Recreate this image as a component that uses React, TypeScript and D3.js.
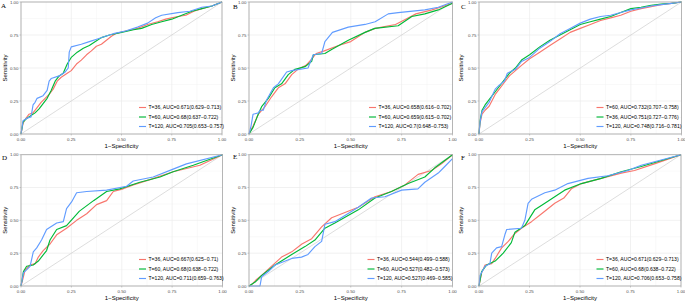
import React from 'react';
import * as d3 from 'd3';

type Pt = [number, number];

const majorTicks = [0, 0.25, 0.5, 0.75, 1];
const minorTicks = [0.125, 0.375, 0.625, 0.875];
const panelLetters = ['A', 'B', 'C', 'D', 'E', 'F'];
const seriesColors = ['#F8766D', '#00BA38', '#619CFF'];
const xTitle = '1−Specificity';
const yTitle = 'Sensitivity';

const legendA = ['T=36, AUC=0.671(0.629−0.713)', 'T=60, AUC=0.68(0.637−0.722)', 'T=120, AUC=0.705(0.653−0.757)'];
const legendB = ['T=36, AUC=0.658(0.616−0.702)', 'T=60, AUC=0.659(0.615−0.702)', 'T=120, AUC=0.7(0.648−0.753)'];
const legendC = ['T=60, AUC=0.732(0.707−0.758)', 'T=36, AUC=0.751(0.727−0.776)', 'T=120, AUC=0.748(0.716−0.781)'];
const legendD = ['T=36, AUC=0.667(0.625−0.71)', 'T=60, AUC=0.68(0.638−0.722)', 'T=120, AUC=0.711(0.659−0.763)'];
const legendE = ['T=36, AUC=0.544(0.499−0.588)', 'T=60, AUC=0.527(0.482−0.573)', 'T=120, AUC=0.527(0.469−0.585)'];
const legendF = ['T=36, AUC=0.671(0.629−0.713)', 'T=60, AUC=0.68(0.638−0.722)', 'T=120, AUC=0.706(0.653−0.758)'];

const redA: Pt[] = [[0,0],[0.01,0.08],[0.02,0.11],[0.04,0.15],[0.06,0.16],[0.08,0.2],[0.1,0.24],[0.12,0.27],[0.14,0.3],[0.16,0.34],[0.18,0.4],[0.2,0.43],[0.23,0.46],[0.25,0.48],[0.276,0.53],[0.3,0.56],[0.326,0.6],[0.35,0.63],[0.375,0.665],[0.4,0.68],[0.425,0.71],[0.45,0.74],[0.47,0.76],[0.52,0.78],[0.58,0.8],[0.63,0.83],[0.68,0.85],[0.72,0.87],[0.78,0.89],[0.82,0.9],[0.86,0.93],[0.9,0.95],[0.95,0.97],[1,1]];
const greenA: Pt[] = [[0,0],[0.01,0.09],[0.03,0.12],[0.05,0.14],[0.07,0.16],[0.09,0.19],[0.11,0.23],[0.13,0.27],[0.15,0.33],[0.17,0.4],[0.19,0.44],[0.21,0.46],[0.23,0.53],[0.25,0.58],[0.28,0.62],[0.31,0.65],[0.34,0.67],[0.37,0.7],[0.4,0.73],[0.44,0.75],[0.5,0.77],[0.56,0.79],[0.6,0.8],[0.65,0.83],[0.7,0.85],[0.75,0.87],[0.8,0.9],[0.85,0.93],[0.9,0.95],[0.95,0.97],[1,1]];
const blueA: Pt[] = [[0,0],[0.01,0.1],[0.03,0.12],[0.05,0.13],[0.06,0.22],[0.07,0.24],[0.08,0.27],[0.11,0.29],[0.13,0.33],[0.14,0.4],[0.15,0.42],[0.19,0.44],[0.22,0.47],[0.235,0.5],[0.24,0.62],[0.25,0.66],[0.3,0.68],[0.34,0.7],[0.38,0.72],[0.42,0.74],[0.46,0.76],[0.52,0.78],[0.58,0.81],[0.63,0.84],[0.67,0.88],[0.7,0.9],[0.78,0.92],[0.84,0.93],[0.9,0.96],[0.95,0.97],[1,1]];

const redB: Pt[] = [[0,0],[0.02,0.06],[0.046,0.15],[0.08,0.21],[0.11,0.28],[0.144,0.35],[0.177,0.38],[0.21,0.45],[0.24,0.49],[0.28,0.52],[0.31,0.57],[0.33,0.61],[0.37,0.63],[0.44,0.67],[0.5,0.7],[0.54,0.74],[0.57,0.77],[0.62,0.8],[0.72,0.83],[0.77,0.87],[0.82,0.91],[0.9,0.94],[1,0.99]];
const greenB: Pt[] = [[0,0],[0.02,0.05],[0.04,0.13],[0.063,0.21],[0.095,0.27],[0.127,0.35],[0.16,0.38],[0.193,0.45],[0.226,0.49],[0.275,0.51],[0.308,0.55],[0.316,0.6],[0.373,0.61],[0.406,0.64],[0.488,0.71],[0.57,0.77],[0.618,0.8],[0.733,0.82],[0.8,0.89],[0.864,0.91],[0.93,0.94],[1,0.99]];
const blueB: Pt[] = [[0,0],[0.01,0.06],[0.02,0.15],[0.046,0.16],[0.054,0.18],[0.07,0.18],[0.087,0.26],[0.12,0.35],[0.144,0.38],[0.185,0.47],[0.21,0.48],[0.29,0.5],[0.3,0.54],[0.316,0.6],[0.357,0.61],[0.373,0.7],[0.41,0.77],[0.488,0.81],[0.57,0.83],[0.62,0.85],[0.684,0.91],[0.733,0.92],[0.864,0.94],[0.93,0.96],[1,1]];

const redC: Pt[] = [[0,0],[0.005,0.08],[0.015,0.15],[0.03,0.18],[0.05,0.21],[0.08,0.3],[0.1,0.34],[0.125,0.39],[0.15,0.44],[0.18,0.48],[0.21,0.52],[0.25,0.57],[0.3,0.62],[0.35,0.67],[0.4,0.72],[0.45,0.77],[0.5,0.8],[0.55,0.83],[0.6,0.86],[0.65,0.88],[0.7,0.9],[0.75,0.93],[0.8,0.95],[0.85,0.965],[0.9,0.98],[0.95,0.99],[1,1]];
const greenC: Pt[] = [[0,0],[0.005,0.1],[0.015,0.18],[0.03,0.22],[0.05,0.26],[0.08,0.32],[0.1,0.36],[0.125,0.41],[0.15,0.46],[0.18,0.5],[0.21,0.56],[0.25,0.6],[0.3,0.66],[0.35,0.71],[0.4,0.75],[0.45,0.79],[0.5,0.83],[0.55,0.85],[0.6,0.87],[0.65,0.89],[0.7,0.92],[0.75,0.95],[0.8,0.96],[0.85,0.975],[0.9,0.985],[0.95,0.99],[1,1]];
const blueC: Pt[] = [[0,0],[0.005,0.09],[0.015,0.17],[0.03,0.2],[0.05,0.24],[0.08,0.34],[0.1,0.37],[0.125,0.4],[0.14,0.46],[0.18,0.49],[0.21,0.55],[0.25,0.58],[0.3,0.65],[0.35,0.7],[0.4,0.76],[0.45,0.8],[0.5,0.84],[0.55,0.87],[0.6,0.89],[0.65,0.9],[0.7,0.92],[0.75,0.94],[0.8,0.955],[0.85,0.97],[0.9,0.98],[0.95,0.99],[1,1]];

const redD: Pt[] = [[0,0],[0.012,0.07],[0.02,0.12],[0.045,0.16],[0.07,0.17],[0.086,0.22],[0.11,0.27],[0.144,0.32],[0.177,0.39],[0.226,0.44],[0.276,0.5],[0.326,0.55],[0.375,0.62],[0.425,0.65],[0.458,0.72],[0.507,0.74],[0.557,0.77],[0.64,0.81],[0.755,0.87],[0.888,0.92],[1,1]];
const greenD: Pt[] = [[0,0],[0.012,0.11],[0.028,0.15],[0.061,0.16],[0.086,0.19],[0.127,0.27],[0.144,0.35],[0.177,0.43],[0.226,0.46],[0.29,0.57],[0.36,0.65],[0.425,0.72],[0.49,0.74],[0.59,0.79],[0.69,0.83],[0.755,0.87],[0.855,0.92],[1,1]];
const blueD: Pt[] = [[0,0],[0.012,0.1],[0.045,0.15],[0.061,0.26],[0.078,0.29],[0.102,0.35],[0.127,0.43],[0.177,0.48],[0.21,0.49],[0.226,0.59],[0.251,0.64],[0.276,0.71],[0.326,0.72],[0.425,0.73],[0.524,0.76],[0.557,0.8],[0.656,0.83],[0.755,0.89],[0.821,0.93],[1,1]];

const redE: Pt[] = [[0,0],[0.013,0.01],[0.037,0.05],[0.062,0.08],[0.11,0.15],[0.16,0.22],[0.21,0.26],[0.26,0.32],[0.308,0.36],[0.357,0.45],[0.406,0.52],[0.537,0.6],[0.619,0.68],[0.7,0.72],[0.766,0.77],[0.831,0.85],[0.897,0.88],[0.946,0.93],[1,1]];
const greenE: Pt[] = [[0,0],[0.03,0.03],[0.062,0.08],[0.128,0.16],[0.21,0.24],[0.275,0.3],[0.324,0.35],[0.373,0.44],[0.422,0.48],[0.537,0.58],[0.619,0.67],[0.7,0.72],[0.782,0.78],[0.864,0.83],[0.913,0.9],[1,1]];
const blueE: Pt[] = [[0,0],[0.054,0],[0.062,0.07],[0.095,0.11],[0.128,0.16],[0.21,0.21],[0.258,0.22],[0.29,0.24],[0.324,0.3],[0.357,0.34],[0.373,0.47],[0.422,0.49],[0.537,0.6],[0.602,0.67],[0.668,0.68],[0.75,0.73],[0.83,0.74],[0.864,0.79],[0.93,0.86],[0.962,0.91],[1,0.97]];

const redF: Pt[] = [[0,0],[0.013,0.1],[0.03,0.16],[0.063,0.17],[0.08,0.21],[0.112,0.29],[0.145,0.34],[0.178,0.4],[0.21,0.44],[0.26,0.49],[0.31,0.55],[0.375,0.63],[0.42,0.67],[0.457,0.74],[0.507,0.78],[0.605,0.82],[0.704,0.86],[0.77,0.88],[0.868,0.93],[1,1]];
const greenF: Pt[] = [[0,0],[0.013,0.11],[0.038,0.16],[0.08,0.19],[0.12,0.25],[0.16,0.33],[0.178,0.41],[0.227,0.46],[0.276,0.58],[0.326,0.63],[0.375,0.68],[0.424,0.73],[0.507,0.78],[0.605,0.82],[0.704,0.87],[0.803,0.91],[1,1]];
const blueF: Pt[] = [[0,0],[0.005,0.08],[0.03,0.15],[0.054,0.17],[0.063,0.25],[0.087,0.29],[0.112,0.3],[0.128,0.39],[0.137,0.43],[0.21,0.44],[0.227,0.5],[0.243,0.63],[0.26,0.66],[0.326,0.71],[0.375,0.73],[0.44,0.78],[0.54,0.82],[0.638,0.84],[0.737,0.88],[0.803,0.92],[1,1]];

// layout (pixel geometry) per panel
const layouts = [
  { x0: 21, x1: 222, yt: 2, yb: 134, lx: 118, letter: [1, 8], ytx: 5 },
  { x0: 249, x1: 452.5, yt: 2, yb: 134, lx: 120, letter: [233, 8.5], ytx: 233 },
  { x0: 479, x1: 681.5, yt: 2, yb: 134, lx: 117.5, letter: [461, 9], ytx: 461.5 },
  { x0: 21, x1: 222.5, yt: 154.7, yb: 286, lx: 118, letter: [2, 160], ytx: 5 },
  { x0: 249, x1: 452.5, yt: 154.7, yb: 286, lx: 118.5, letter: [233, 159], ytx: 233 },
  { x0: 479, x1: 681, yt: 154.7, yb: 286, lx: 117.5, letter: [461, 160], ytx: 461.5 },
];

const panelSeries = [
  [redA, greenA, blueA],
  [redB, greenB, blueB],
  [redC, greenC, blueC],
  [redD, greenD, blueD],
  [redE, greenE, blueE],
  [redF, greenF, blueF],
];
const panelLegends = [legendA, legendB, legendC, legendD, legendE, legendF];

const fmt = d3.format('.2f');
const SANS = "'Liberation Sans', Arial, Helvetica, sans-serif";

function Panel({ i }: { i: number }) {
  const L = layouts[i];
  const x = d3.scaleLinear().domain([0, 1]).range([L.x0, L.x1]);
  const y = d3.scaleLinear().domain([0, 1]).range([L.yb, L.yt]);
  const line = d3.line<Pt>().x(d => x(d[0])).y(d => y(d[1]));
  const legendOffsets = [26.5, 17, 7.5];
  return (
    <g>
      <rect x={L.x0} y={L.yt} width={L.x1 - L.x0} height={L.yb - L.yt} fill="#ffffff" />
      {minorTicks.map(t => (
        <g key={'m' + t}>
          <line x1={x(t)} x2={x(t)} y1={L.yt} y2={L.yb} stroke="#f3f3f3" strokeWidth={0.5} />
          <line x1={L.x0} x2={L.x1} y1={y(t)} y2={y(t)} stroke="#f3f3f3" strokeWidth={0.5} />
        </g>
      ))}
      {majorTicks.map(t => (
        <g key={'g' + t}>
          <line x1={x(t)} x2={x(t)} y1={L.yt} y2={L.yb} stroke="#ebebeb" strokeWidth={0.7} />
          <line x1={L.x0} x2={L.x1} y1={y(t)} y2={y(t)} stroke="#ebebeb" strokeWidth={0.7} />
        </g>
      ))}
      <line x1={x(0)} y1={y(0)} x2={x(1)} y2={y(1)} stroke="#cfcfcf" strokeWidth={0.7} />
      {panelSeries[i].map((s, k) => (
        <path key={k} d={line(s) || ''} fill="none" stroke={seriesColors[k]} strokeWidth={1.15} strokeLinejoin="round" />
      ))}
      <rect x={L.x0} y={L.yt} width={L.x1 - L.x0} height={L.yb - L.yt} fill="none" stroke="#a6a6a6" strokeWidth={0.8} />
      {majorTicks.map(t => (
        <g key={'t' + t}>
          <line x1={x(t)} x2={x(t)} y1={L.yb} y2={L.yb + 1.5} stroke="#a6a6a6" strokeWidth={0.6} />
          <text x={x(t)} y={L.yb + 7} fontSize={4.4} textAnchor="middle" fill="#4d4d4d" fontFamily={SANS}>{fmt(t)}</text>
          <line x1={L.x0 - 1.5} x2={L.x0} y1={y(t)} y2={y(t)} stroke="#a6a6a6" strokeWidth={0.6} />
          <text x={L.x0 - 2.5} y={y(t) + 1.5} fontSize={4.4} textAnchor="end" fill="#4d4d4d" fontFamily={SANS}>{fmt(t)}</text>
        </g>
      ))}
      <text x={(L.x0 + L.x1) / 2} y={L.yb + 13.5} fontSize={6} textAnchor="middle" fill="#000" fontFamily={SANS}>{xTitle}</text>
      <text transform={`translate(${L.ytx + 1.5},${(L.yt + L.yb) / 2}) rotate(-90)`} fontSize={6} textAnchor="middle" fill="#000" fontFamily={SANS}>{yTitle}</text>
      <text x={L.letter[0]} y={L.letter[1]} fontSize={7} fill="#000" fontFamily="'Liberation Serif', 'Times New Roman', serif">{panelLetters[i]}</text>
      {panelLegends[i].map((lab, k) => {
        const ly = L.yb - legendOffsets[k];
        const lx = L.x0 + L.lx;
        return (
          <g key={'l' + k}>
            <line x1={lx} x2={lx + 7} y1={ly} y2={ly} stroke={seriesColors[k]} strokeWidth={1.15} />
            <text x={lx + 9.5} y={ly + 1.8} fontSize={5.1} fill="#000" fontFamily={SANS}>{lab}</text>
          </g>
        );
      })}
    </g>
  );
}

export default function App() {
  return (
    <svg width={685} height={301} style={{ position: 'absolute', left: 0, top: 0, background: '#fff' }}>
      <rect x={0} y={0} width={685} height={301} fill="#ffffff" />
      {layouts.map((_, i) => <Panel key={i} i={i} />)}
    </svg>
  );
}
